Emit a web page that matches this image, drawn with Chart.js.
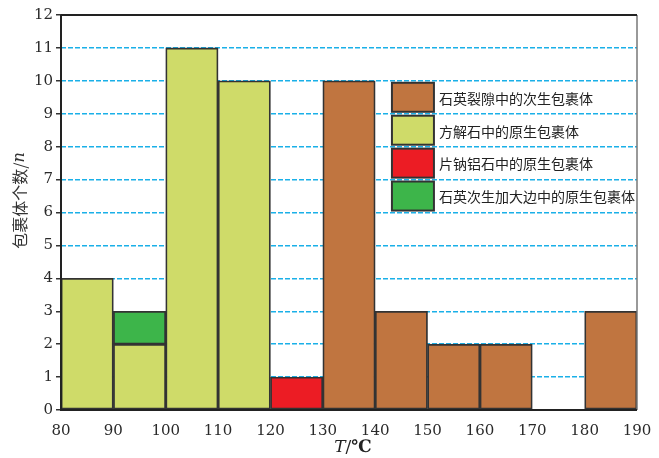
<!DOCTYPE html>
<html>
<head>
<meta charset="utf-8">
<script src="https://cdn.jsdelivr.net/npm/chart.js@4/dist/chart.umd.min.js"></script>
<style>
  html, body { margin: 0; padding: 0; background: #fff; }
  #wrap { width: 659px; height: 458px; }
</style>
</head>
<body>
<div id="wrap"><canvas id="c"></canvas></div>
<script>
const SERIF = "'DejaVu Serif', 'Liberation Serif', serif";
const CJK = "'Noto Sans CJK SC', sans-serif";

// bins (start of each 10 ℃ interval)
const binStarts = [80, 90, 100, 110, 120, 130, 140, 150, 160, 170, 180];
const xTicks = [80, 90, 100, 110, 120, 130, 140, 150, 160, 170, 180, 190];
const yTicks = [0, 1, 2, 3, 4, 5, 6, 7, 8, 9, 10, 11, 12];

const seriesNames = ['石英裂隙中的次生包裹体', '方解石中的原生包裹体', '片钠铝石中的原生包裹体', '石英次生加大边中的原生包裹体'];
const quartzFracture = [null, null, null, null, null, 10, 3, 2, 2, null, 3];
const calcite        = [4, 2, 11, 10, null, null, null, null, null, null, null];
const dawsonite      = [null, null, null, null, 1, null, null, null, null, null, null];
const quartzOvergrow = [null, 1, null, null, null, null, null, null, null, null, null];
const colors = ['#c07540', '#cfdb69', '#ec1c24', '#3db54a'];

const toPts = arr => binStarts.map((s, i) => ({ x: s + 5, y: arr[i] }));

// Leyenda dibujada a mano, alineada con la rejilla
const legendPlugin = {
  id: 'boxLegend',
  afterDraw(chart) {
    const { ctx, scales: { x, y } } = chart;
    const x0 = x.getPixelForValue(143.2);
    const sw = 42;
    seriesNames.forEach((name, i) => {
      const yc = y.getPixelForValue(9.5 - i);
      const h = 29;
      ctx.save();
      ctx.fillStyle = colors[i];
      ctx.fillRect(x0, yc - h / 2, sw, h);
      ctx.strokeStyle = '#333';
      ctx.lineWidth = 2;
      ctx.strokeRect(x0, yc - h / 2, sw, h);
      ctx.fillStyle = '#222';
      ctx.font = `14px ${CJK}`;
      ctx.textBaseline = 'middle';
      ctx.fillText(name, x0 + sw + 5, yc + 1);
      ctx.restore();
    });
  }
};

// Marco y títulos de ejes (T cursiva, ℃ negrita, n cursiva)
const frame = {
  id: 'frame',
  afterDatasetsDraw(chart) {
    const { ctx, chartArea: a } = chart;
    ctx.save();
    ctx.strokeStyle = '#777';
    ctx.lineWidth = 1.5;
    ctx.beginPath();
    ctx.moveTo(a.right, a.top); ctx.lineTo(a.right, a.bottom);
    ctx.stroke();
    ctx.strokeStyle = '#222';
    ctx.lineWidth = 2;
    ctx.beginPath();
    ctx.moveTo(a.left, a.top); ctx.lineTo(a.right, a.top);
    ctx.moveTo(a.left, a.top); ctx.lineTo(a.left, a.bottom); ctx.lineTo(a.right, a.bottom);
    ctx.stroke();

    // x title
    ctx.fillStyle = '#222';
    ctx.textBaseline = 'middle';
    const parts = [[`italic 17px ${SERIF}`, 'T'], [`17px ${SERIF}`, '/'], [`bold 17px ${SERIF}`, '℃']];
    let w = 0;
    parts.forEach(([f, t]) => { ctx.font = f; w += ctx.measureText(t).width; });
    let xp = (a.left + a.right) / 2 - w / 2 + 4;
    parts.forEach(([f, t]) => { ctx.font = f; ctx.fillText(t, xp, 448); xp += ctx.measureText(t).width; });

    // y title
    ctx.translate(20, (a.top + a.bottom) / 2 - 12);
    ctx.rotate(-Math.PI / 2);
    const yp = [[`16px ${CJK}`, '包裹体个数/'], [`italic 16px ${SERIF}`, 'n']];
    w = 0;
    yp.forEach(([f, t]) => { ctx.font = f; w += ctx.measureText(t).width; });
    xp = -w / 2;
    ctx.fillStyle = '#333';
    yp.forEach(([f, t]) => { ctx.font = f; ctx.fillText(t, xp, 0); xp += ctx.measureText(t).width; });
    ctx.restore();
  }
};

const dsBase = { borderColor: '#333', borderWidth: 1.8, barPercentage: 1, categoryPercentage: 1, borderSkipped: false };

new Chart(document.getElementById('c'), {
  type: 'bar',
  data: {
    datasets: [
      { ...dsBase, label: seriesNames[0], data: toPts(quartzFracture), backgroundColor: colors[0] },
      { ...dsBase, label: seriesNames[1], data: toPts(calcite), backgroundColor: colors[1] },
      { ...dsBase, label: seriesNames[2], data: toPts(dawsonite), backgroundColor: colors[2] },
      { ...dsBase, label: seriesNames[3], data: toPts(quartzOvergrow), backgroundColor: colors[3] }
    ]
  },
  options: {
    responsive: true,
    maintainAspectRatio: false,
    animation: false,
    layout: { padding: { top: 15, right: 22, left: 0, bottom: 0 } },
    plugins: { legend: { display: false }, tooltip: { enabled: false } },
    scales: {
      x: {
        type: 'linear', stacked: true, offset: false, min: 80, max: 190,
        afterBuildTicks: s => { s.ticks = xTicks.map(v => ({ value: v })); },
        afterFit: s => { s.height = 48; },
        grid: { display: false },
        border: { display: false },
        ticks: { font: { family: SERIF, size: 15 }, color: '#2a2a2a', padding: 4, maxRotation: 0 }
      },
      y: {
        stacked: true, min: 0, max: 12,
        afterBuildTicks: s => { s.ticks = yTicks.map(v => ({ value: v })); },
        afterFit: s => { s.width = 61; },
        grid: { color: '#1ab0e8', lineWidth: 1.5, tickColor: '#333', tickLength: 5, drawOnChartArea: true },
        border: { display: false, dash: [5, 2] },
        ticks: { font: { family: SERIF, size: 15 }, color: '#2a2a2a', padding: 3 }
      }
    }
  },
  plugins: [frame, legendPlugin]
});
</script>
</body>
</html>
